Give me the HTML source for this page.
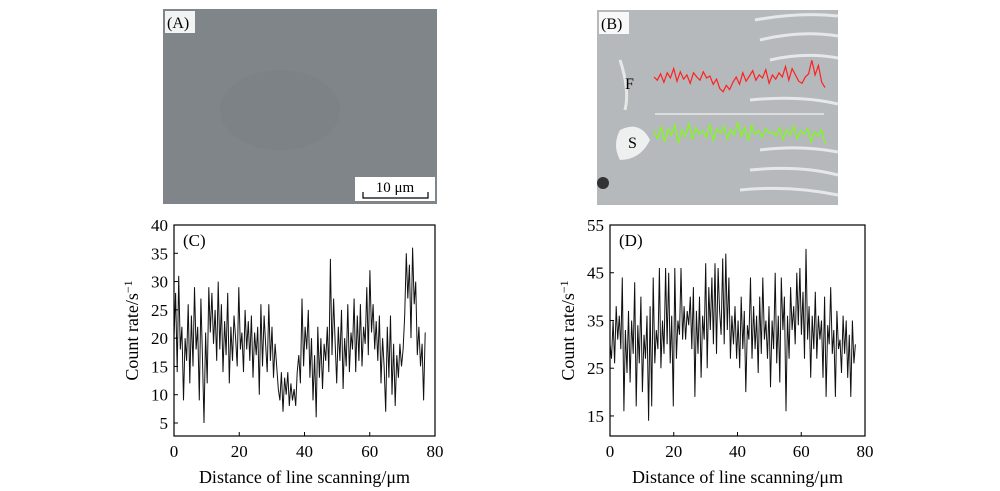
<!DOCTYPE html>
<html><head><meta charset="utf-8"><style>
body{margin:0;background:#fff;}
svg{display:block;font-family:"Liberation Serif",serif;}
</style></head><body>
<svg id="fig" width="1000" height="491" viewBox="0 0 1000 491">
<g>
<rect x="163" y="9" width="274" height="195" fill="#7f8588"/>
<ellipse cx="280" cy="110" rx="60" ry="40" fill="#767c7f" opacity="0.25"/>
<rect x="165" y="11" width="30" height="22" fill="#fff" opacity="0.9"/>
<text x="167" y="28" font-size="16">(A)</text>
<rect x="355" y="177" width="80" height="24" fill="#fff"/>
<text x="395" y="192" font-size="15" text-anchor="middle">10 μm</text>
<path d="M363,192 V198 H428 V192" stroke="#000" fill="none" stroke-width="1.2"/>
</g>
<g>
<rect x="597" y="10" width="241" height="195" fill="#b5b9bb"/>
<g stroke="#eef0f0" stroke-width="3" fill="none" opacity="0.85">
<path d="M760,40 Q800,30 838,36"/><path d="M770,60 Q805,52 838,58"/><path d="M750,100 Q800,95 838,104"/>
<path d="M760,150 Q800,145 838,152"/><path d="M750,170 Q800,165 838,175"/><path d="M740,190 Q790,185 838,195"/>
<path d="M755,20 Q800,12 838,16"/><path d="M620,60 Q630,90 625,110"/>
</g>
<path d="M620,130 Q640,120 650,140 Q640,160 620,160 Q612,145 620,130Z" fill="#eef0f0"/>
<circle cx="603" cy="183" r="6" fill="#333"/>
<rect x="599" y="12" width="30" height="22" fill="#fff" opacity="0.9"/>
<text x="601" y="29" font-size="16">(B)</text>
<text x="625" y="89" font-size="16">F</text>
<text x="628" y="148" font-size="16">S</text>
<line x1="655" y1="114" x2="824" y2="114" stroke="#fff" stroke-width="1"/>
<polyline id="redLine" fill="none" stroke="#ff2020" stroke-width="1.2"/>
<polyline id="greenLine" fill="none" stroke="#7cff10" stroke-width="1.2"/>
</g>
<g id="chartC"></g>
<g id="chartD"></g>
</svg>
<script>
const cValues=[20,28,14,31,18,22,9,20,16,26,12,
24,15,29,18,22,9,27,17,5,21,
12,29,21,28,19,25,16,30,18,26,14,23,17,
28,12,22,16,24,20,15,29,18,21,14,25,18,23,16,24,13,
21,17,22,10,26,15,24,19,14,26,16,22,13,19,
15,11,9,14,7,13,10,14,8,12,9,11,8,14,
17,12,27,15,22,18,25,13,20,9,17,6,22,13,20,11,19,16,
22,14,34,17,27,19,12,22,16,25,11,20,15,26,14,21,
18,27,14,24,16,26,15,22,19,29,17,32,21,26,18,23,
16,24,12,20,15,7,22,13,24,10,19,8,17,13,19,15,
18,24,35,27,33,20,36,26,30,17,22,15,19,9,21];
const dValues=[30,27,35,26,38,31,36,29,44,16,33,24,37,22,35,28,
43,17,34,26,40,20,32,27,36,14,38,17,44,26,33,29,
46,25,35,28,46,30,45,26,36,17,46,27,35,32,46,31,
38,31,37,34,40,29,42,19,37,28,40,23,36,31,47,25,
42,33,44,30,47,28,46,37,32,48,30,49,33,44,27,36,
30,38,27,35,25,40,29,37,20,34,31,44,27,38,29,36,
24,40,28,44,31,35,27,38,21,35,29,45,26,36,22,44,
33,40,16,36,27,42,33,38,30,45,34,46,32,41,27,50,
31,38,23,36,29,41,27,36,31,35,23,40,19,34,30,42,
28,33,19,37,29,31,24,36,28,35,23,32,19,35,26,30];
const scanLength=77;
const cTicksY=[5,10,15,20,25,30,35,40];
const dTicksY=[15,25,35,45,55];
const ticksX=[0,20,40,60,80];
const redValues=[20,17,23,15,24,19,28,16,25,18,22,14,24,20,17,25,19,21,13,18,9,6,12,8,15,20,13,24,16,21,26,17,22,19,27,14,22,18,24,20,30,17,28,22,16,14,20,23,36,22,31,15,10];
const greenValues=[22,15,26,12,24,18,27,11,23,17,29,14,25,19,22,16,28,13,24,20,26,15,23,18,30,17,25,13,27,19,22,16,24,20,21,17,25,14,23,18,26,15,22,19,24,12,21,17,23,10];

const NS="http://www.w3.org/2000/svg";
function mk(parent,tag,attrs,text){const e=document.createElementNS(NS,tag);for(const k in attrs)e.setAttribute(k,attrs[k]);if(text!==undefined)e.textContent=text;parent.appendChild(e);return e;}

function drawChart(gid,vals,yMin,yMax,yTicks,left,right,top,bottom,label,ylabX){
  const g=document.getElementById(gid);
  const xs=v=>left+(v/80)*(right-left);
  const ys=v=>bottom-(v-yMin)/(yMax-yMin)*(bottom-top);
  const pts=vals.map((v,i)=>xs(i*scanLength/(vals.length-1)).toFixed(1)+","+ys(v).toFixed(1)).join(" ");
  const line=mk(g,"polyline",{points:pts,fill:"none",stroke:"#111","stroke-width":"1"});
  
  
  const frame=mk(g,"rect",{x:left,y:top,width:right-left,height:bottom-top,fill:"none",stroke:"#000","stroke-width":"1.2"});
  
  
  yTicks.forEach(t=>{
    const y=ys(t);
    mk(g,"line",{x1:left,y1:y,x2:left+4,y2:y,stroke:"#000"});
    const tl=mk(g,"text",{x:left-6,y:y+6,"font-size":"17","text-anchor":"end"},t);
    
    
  });
  ticksX.forEach(t=>{
    const x=xs(t);
    mk(g,"line",{x1:x,y1:bottom,x2:x,y2:bottom-4,stroke:"#000"});
    const tl=mk(g,"text",{x:x,y:bottom+21,"font-size":"17","text-anchor":"middle"},t);
    
    
  });
  const pl=mk(g,"text",{x:left+9,y:top+21,"font-size":"17"},label);
  
  
  const xt=mk(g,"text",{x:(left+right)/2,y:bottom+47,"font-size":"18","text-anchor":"middle"},"Distance of line scanning/μm");
  
  
  const yt=mk(g,"text",{x:0,y:0,"font-size":"18","text-anchor":"middle",transform:`translate(${ylabX},${(top+bottom)/2}) rotate(-90)`});
  
  
  yt.textContent="Count rate/s";
  mk(yt,"tspan",{dy:"-6","font-size":"12"},"−1");
}
drawChart("chartC",cValues,2.7,40,cTicksY,174,435,225,436,"(C)",138);
drawChart("chartD",dValues,10.8,55,dTicksY,610,865,225,436,"(D)",574);

function scan(id,vals,x0,x1,yBase,scale){
  const pts=vals.map((v,i)=>(x0+i*(x1-x0)/(vals.length-1)).toFixed(1)+","+(yBase-v*scale).toFixed(1)).join(" ");
  document.getElementById(id).setAttribute("points",pts);
}
scan("redLine",redValues,654,825,98,1.05);
scan("greenLine",greenValues,654,825,155,1.1);
</script>
</body></html>
